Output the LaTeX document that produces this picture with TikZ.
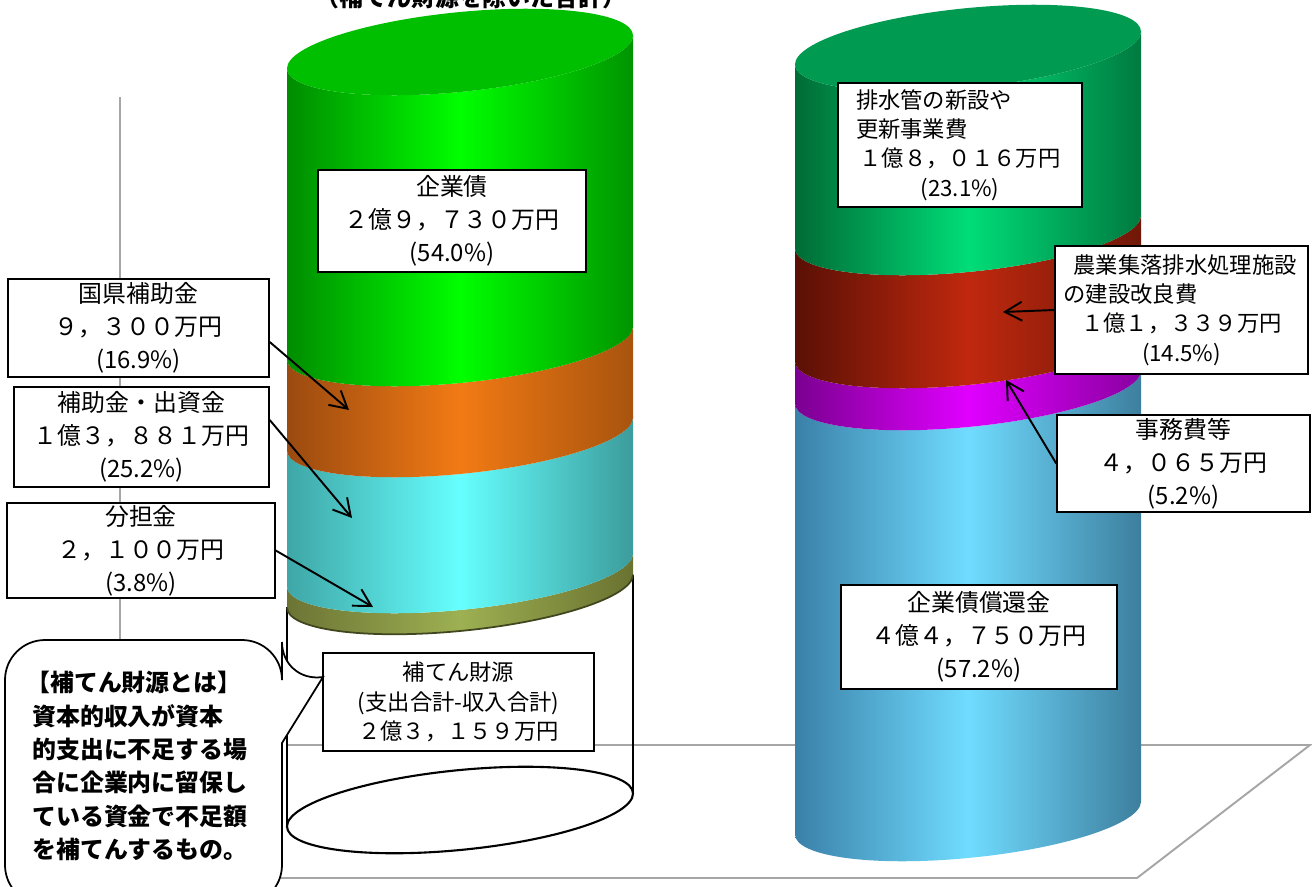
\documentclass[tikz,border=0pt]{standalone}
\usepackage{fontspec}
\setmainfont{Noto Sans CJK JP}
\usetikzlibrary{arrows.meta}

\definecolor{vertA}{HTML}{008C00}
\definecolor{vertB}{HTML}{00FF00}
\definecolor{vertC}{HTML}{009400}
\definecolor{vertHaut}{HTML}{00BE00}
\definecolor{orangeA}{HTML}{9A4A10}
\definecolor{orangeB}{HTML}{F27A14}
\definecolor{orangeC}{HTML}{A8540E}
\definecolor{cyanA}{HTML}{3FA6A6}
\definecolor{cyanB}{HTML}{66FFFF}
\definecolor{cyanC}{HTML}{3C9C9C}
\definecolor{oliveA}{HTML}{6C7434}
\definecolor{oliveB}{HTML}{9DB052}
\definecolor{oliveC}{HTML}{6A7230}
\definecolor{emeraudeA}{HTML}{006B35}
\definecolor{emeraudeB}{HTML}{00DD78}
\definecolor{emeraudeC}{HTML}{007A40}
\definecolor{emeraudeHaut}{HTML}{009B50}
\definecolor{rougeA}{HTML}{5A1005}
\definecolor{rougeB}{HTML}{C0280E}
\definecolor{rougeC}{HTML}{701808}
\definecolor{magentaA}{HTML}{7A0090}
\definecolor{magentaB}{HTML}{E000FF}
\definecolor{magentaC}{HTML}{8A00A0}
\definecolor{bleuA}{HTML}{3A80A8}
\definecolor{bleuB}{HTML}{70DCFF}
\definecolor{bleuC}{HTML}{3D7E9E}

% #1 niveau haut, #2 niveau bas, #3-#5 couleurs gauche/milieu/droite
\newcommand{\Tranche}[5]{\shade[left color=#3,right color=#5,middle color=#4] (-\rayon,#2) arc[start angle=180,end angle=360,x radius=\rayon,y radius=\petitray] -- (\rayon,#1) arc[start angle=0,end angle=-180,x radius=\rayon,y radius=\petitray] -- cycle}

\tikzset{
	boite/.style={draw,line width=0.9pt,fill=white,inner sep=0pt,align=center,font=\fontsize{13.6}{18.7}\selectfont},
	petit/.style={font=\fontsize{12.7}{16.7}\selectfont},
	fleche/.style={line width=1.1pt,-{Straight Barb[length=3.4mm,width=3.8mm]}},
	gris/.style={draw=black!35,line width=1.1pt}
}

\begin{document}
\begin{tikzpicture}[x=0.02cm,y=0.02cm]
	\def\rayon{173}
	\def\petitray{40}
	\useasboundingbox (0,0) rectangle (1312,-886);
	\clip (0,0) rectangle (1312,-886);
	
	%Sol et axe
	\draw[gris] (287,-745) -- (1310,-745) -- (1137,-878) -- (200,-878);
	\draw[gris] (120,-97) -- (120,-745);
	
	%Titre (coupe en haut)
	\node[font=\bfseries\fontsize{13.6}{16}\selectfont] (titre) at (471,3) {（補てん財源を除いた合計）};
	
	%Cylindre de gauche : recettes
	\begin{scope}[shift={(460,0)},yslant=0.095]
		\draw[line width=0.6pt] (-\rayon,-591) -- (-\rayon,-810);
		\draw[line width=0.6pt] (\rayon,-591) -- (\rayon,-810);
		\draw[line width=1.2pt] (0,-810) ellipse[x radius=\rayon,y radius=\petitray];
		\Tranche{-570}{-591}{oliveA}{oliveB}{oliveC};
		\Tranche{-434}{-570}{cyanA}{cyanB}{cyanC};
		\Tranche{-343}{-434}{orangeA}{orangeB}{orangeC};
		\Tranche{-52}{-343}{vertA}{vertB}{vertC};
		\fill[vertHaut] (0,-52) ellipse[x radius=\rayon,y radius=\petitray];
		\draw[oliveA!60!black,line width=1pt] (-\rayon,-591) arc[start angle=180,end angle=360,x radius=\rayon,y radius=\petitray];
	\end{scope}
	
	%Cylindre de droite : depenses
	\begin{scope}[shift={(968,0)},yslant=0.095]
		\Tranche{-387}{-818}{bleuA}{bleuB}{bleuC};
		\Tranche{-345}{-387}{magentaA}{magentaB}{magentaC};
		\Tranche{-232}{-345}{rougeA}{rougeB}{rougeC};
		\Tranche{-48}{-232}{emeraudeA}{emeraudeB}{emeraudeC};
		\fill[emeraudeHaut] (0,-48) ellipse[x radius=\rayon,y radius=\petitray];
	\end{scope}
	
	%Etiquettes
	\node[boite,minimum width=5.36cm,minimum height=2.04cm] (kigyosai) at (452,-221) {企業債\\２億９，７３０万円\\(54.0\%)};
	\node[boite,minimum width=5.22cm,minimum height=1.96cm] (kokken) at (138.5,-328) {国県補助金\\９，３００万円\\(16.9\%)};
	\node[boite,minimum width=5.1cm,minimum height=2.0cm] (hojokin) at (141.5,-437) {補助金・出資金\\１億３，８８１万円\\(25.2\%)};
	\node[boite,minimum width=5.36cm,minimum height=1.9cm] (buntan) at (141,-550.5) {分担金\\２，１００万円\\(3.8\%)};
	\node[boite,petit,minimum width=5.42cm,minimum height=1.96cm] (hoten) at (458.5,-702) {補てん財源\\(支出合計-収入合計)\\２億３，１５９万円};
	\node[boite,petit,align=left,inner xsep=0.36cm,text width=4.16cm,minimum height=2.48cm] (haisui) at (960,-145) {排水管の新設や\\更新事業費\\\makebox[4.16cm]{１億８，０１６万円}\\\makebox[4.16cm]{(23.1\%)}};
	\node[boite,petit,align=left,inner xsep=0.17cm,text width=4.72cm,minimum height=2.56cm] (nogyo) at (1181.5,-310) {\hspace*{0.2cm}農業集落排水処理施設\\の建設改良費\\\makebox[4.72cm]{１億１，３３９万円}\\\makebox[4.72cm]{(14.5\%)}};
	\node[boite,minimum width=5.06cm,minimum height=1.94cm] (jimu) at (1183.5,-463.5) {事務費等\\４，０６５万円\\(5.2\%)};
	\node[boite,minimum width=5.52cm,minimum height=2.08cm] (shokan) at (979,-637) {企業債償還金\\４億４，７５０万円\\(57.2\%)};
	
	%Fleches
	\coordinate (pKokken) at (349,-410);
	\coordinate (pHojokin) at (352,-518);
	\coordinate (pBuntan) at (373,-607);
	\coordinate (pNogyo) at (1003,-312);
	\coordinate (pJimu) at (1006,-380);
	\draw[fleche] ([yshift=-0.28cm]kokken.east) -- (pKokken);
	\draw[fleche] ([yshift=0.34cm]hojokin.east) -- (pHojokin);
	\draw[fleche] (buntan.east) -- (pBuntan);
	\draw[fleche] (nogyo.west) -- (pNogyo);
	\draw[fleche] (jimu.west) -- (pJimu);
	
	%Bulle
	\coordinate (pointe) at (323,-677);
	\draw[fill=white,line width=1pt] (282,-743) [rounded corners=0.8cm] -- (282,-905) -- (5,-905) -- (5,-640) -- (282,-640) -- (282,-682) [sharp corners] -- (pointe) -- cycle;
	\node[anchor=north west,inner sep=0pt,align=left,font=\bfseries\fontsize{13.6}{19}\selectfont] (bulle) at (32,-671) {\hspace*{-0.12cm}【補てん財源とは】\\資本的収入が資本\\的支出に不足する場\\合に企業内に留保し\\ている資金で不足額\\を補てんするもの。};
\end{tikzpicture}
\end{document}
